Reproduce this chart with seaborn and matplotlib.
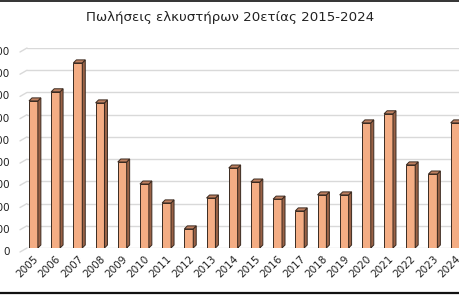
import matplotlib
matplotlib.use("Agg")
import matplotlib.pyplot as plt
import matplotlib.transforms as mtransforms
import seaborn as sns
import pandas as pd
from matplotlib.patches import Polygon
from matplotlib.lines import Line2D

years = ["2005", "2006", "2007", "2008", "2009", "2010", "2011", "2012", "2013", "2014",
         "2015", "2016", "2017", "2018", "2019", "2020", "2021", "2022", "2023", "2024"]
sales = [1324, 1406, 1666, 1306, 774, 576, 406, 172, 450, 720,
         594, 440, 334, 478, 478, 1126, 1208, 748, 666, 1126]
yticks = [0, 200, 400, 600, 800, 1000, 1200, 1400, 1600, 1800]
title = "Πωλήσεις ελκυστήρων 20ετίας 2015-2024"

front_col = "#F4AD84"
side_col = "#9A6246"
top_col = "#C08060"
edge_col = "#3A2A20"

sns.set_theme(style="white")
plt.rcParams["font.family"] = ["DejaVu Sans"]

W, H = 460, 295
fig = plt.figure(figsize=(W / 100, H / 100), dpi=100)
ax_l, ax_r, ax_b, ax_t = 27, 460, 295 - 248, 295 - 48
ax = fig.add_axes([ax_l / W, ax_b / H, (ax_r - ax_l) / W, (ax_t - ax_b) / H])

df = pd.DataFrame({"year": years, "sales": sales})
sns.barplot(data=df, x="year", y="sales", color=front_col, saturation=1, width=0.40,
            edgecolor=edge_col, linewidth=0.7, ax=ax, zorder=3)

xmin, xmax = -0.29, 19.22
ax.set_xlim(xmin, xmax)
ax.set_ylim(0, 1800)
ax.set_yticks(yticks)
ax.set_yticklabels([str(v) for v in yticks])
ax.yaxis.grid(True, color="#D9D9D9", linewidth=1.0, zorder=0)
ax.xaxis.grid(False)
for s in ax.spines.values():
    s.set_visible(False)
ax.set_xlabel("")
ax.set_ylabel("")

# pixel -> data scale
px_x = (xmax - xmin) / (ax_r - ax_l)
px_y = 1800 / (ax_t - ax_b)
ddx, ddy = 3 * px_x, 3 * px_y

for p in list(ax.patches):
    x0 = p.get_x()
    w = p.get_width()
    h = p.get_height()
    x1 = x0 + w
    side = Polygon([(x1, 0), (x1 + ddx, ddy), (x1 + ddx, h + ddy), (x1, h)], closed=True,
                   facecolor=side_col, edgecolor=edge_col, linewidth=0.7, zorder=3)
    top = Polygon([(x0, h), (x0 + ddx, h + ddy), (x1 + ddx, h + ddy), (x1, h)], closed=True,
                  facecolor=top_col, edgecolor=edge_col, linewidth=0.7, zorder=3)
    ax.add_patch(side)
    ax.add_patch(top)

# small diagonal ends of gridlines (3D wall edge)
for v in yticks:
    ypx = ax_b + v / px_y
    fig.add_artist(Line2D([20 / W, ax_l / W], [(ypx - 4) / H, ypx / H], color="#D9D9D9",
                          linewidth=1.0))

ax.tick_params(axis="y", length=0, pad=12, labelsize=7.5, labelcolor="#222222")
ax.tick_params(axis="x", length=0, pad=4, labelsize=7.5, labelcolor="#222222")
shift = mtransforms.ScaledTranslation(0, -3 / 100, fig.dpi_scale_trans)
for lab in ax.get_yticklabels():
    lab.set_transform(lab.get_transform() + shift)
for lab in ax.get_xticklabels():
    lab.set_rotation(45)
    lab.set_ha("right")
    lab.set_va("top")
    lab.set_rotation_mode("anchor")

fig.text(0.5, 1 - 18 / H, title, ha="center", va="center", fontsize=9.6, color="#222222")

# frame lines at top and bottom
fig.add_artist(Line2D([0, 1], [1 - 0.5 / H, 1 - 0.5 / H], color="#111111", linewidth=1.2))
fig.add_artist(Line2D([0, 1], [2 / H, 2 / H], color="#111111", linewidth=1.6))

fig.savefig("out.png", dpi=100)
